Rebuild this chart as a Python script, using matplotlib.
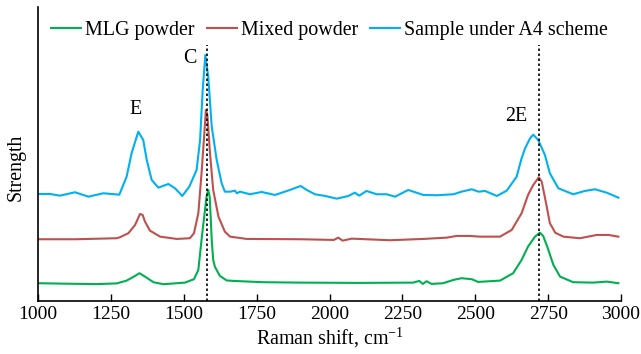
import matplotlib
matplotlib.use("Agg")
import matplotlib.pyplot as plt

# Raman spectra (arbitrary intensity units, offset stacked)
mlg_x = [1000, 1100, 1200, 1270, 1304, 1333, 1348, 1367, 1396, 1430, 1504, 1535, 1550,
         1561, 1570, 1578, 1584, 1589, 1596, 1601, 1607, 1624, 1647, 1670, 1773, 1900,
         2100, 2287, 2308, 2320, 2333, 2350, 2390, 2425, 2453, 2488, 2510, 2585, 2630,
         2659, 2681, 2705, 2722, 2733, 2747, 2768, 2791, 2836, 2905, 2951, 2991]
mlg_y = [17.7, 17.2, 16.8, 17.5, 20.3, 25, 27.7, 24.3, 18.7, 16.7, 18.3, 21.7, 31,
         61, 84, 104, 111, 104, 61, 41, 34, 25, 20.5, 20, 18.7, 18.3,
         18, 18.3, 20, 17, 19.7, 17, 17.7, 21, 22.7, 21.7, 19, 20.3, 27.7,
         41, 54.3, 64.3, 68.3, 65, 54.3, 36, 24.3, 18.7, 18.3, 19.3, 17.7]

mixed_x = [1000, 1130, 1270, 1281, 1310, 1333, 1350, 1359, 1367, 1384, 1419, 1476, 1521,
           1535, 1550, 1561, 1569, 1576, 1581, 1590, 1601, 1619, 1641, 1659, 1716, 1900,
           2015, 2030, 2045, 2076, 2207, 2322, 2402, 2436, 2482, 2516, 2585, 2625, 2659,
           2681, 2699, 2718, 2728, 2743, 2756, 2766, 2774, 2802, 2859, 2917, 2957, 2991]
mixed_y = [61.7, 61.7, 62.7, 63.7, 67.7, 76, 87, 86, 79.3, 70.3, 64.3, 62, 62.7,
           67.7, 87.7, 127.7, 161, 191, 186, 147.7, 111, 84.3, 69.3, 64.3, 62, 61.7,
           61, 63.3, 60.3, 62.3, 60.7, 62, 63.3, 65, 65, 64.3, 64.3, 71, 87.7,
           106, 116, 123.7, 119.3, 97.7, 77.7, 72.7, 68.3, 64.3, 62.7, 66, 66, 64.3]

a4_x = [1000, 1041, 1075, 1127, 1173, 1224, 1279, 1304, 1321, 1344, 1361, 1373, 1390,
        1413, 1447, 1470, 1495, 1519, 1544, 1556, 1565, 1574, 1584, 1596, 1613, 1630,
        1641, 1659, 1676, 1682, 1693, 1727, 1767, 1813, 1864, 1901, 1922, 1950, 1985,
        2025, 2065, 2087, 2102, 2127, 2162, 2196, 2225, 2270, 2322, 2368, 2425, 2453,
        2488, 2511, 2534, 2574, 2608, 2642, 2659, 2671, 2688, 2699, 2716, 2739, 2756,
        2785, 2836, 2876, 2911, 2951, 2991]
a4_y = [107, 107, 105.3, 108.7, 104.3, 107.7, 106.3, 124.3, 147.7, 169.3, 161, 141, 121,
        113.3, 117, 112.7, 105, 114.3, 131, 161, 211, 246, 224.3, 174.3, 141, 117.7,
        109.3, 109.3, 110.3, 107.7, 109.3, 106.7, 109, 106, 111, 115, 111, 106.7, 105,
        102.3, 105, 108.3, 105.3, 110, 106.7, 106.7, 104.3, 111, 106, 105.7, 106.7, 109.3,
        111.7, 109.3, 110, 105, 110.3, 124.3, 142.7, 152.7, 162.7, 166.3, 161, 146, 127.7,
        112.7, 106.7, 110, 111.7, 108.3, 103.3]

peak_lines = [1579, 2720]
peak_labels = ["E", "C", "2E"]
label_x = [1336, 1521, 2640]
label_y = [192, 243, 185]
xticks = [1000, 1250, 1500, 1750, 2000, 2250, 2500, 2750, 3000]

plt.rcParams['font.family'] = ['Liberation Serif', 'DejaVu Serif']
plt.rcParams['font.size'] = 14

fig = plt.figure(figsize=(6.41, 3.54), dpi=100)
ax = fig.add_axes([0.0593, 0.150, 0.9095, 0.830])

ax.plot(mlg_x, mlg_y, color='#00B050', lw=1.5, label='MLG powder')
ax.plot(mixed_x, mixed_y, color='#C0504D', lw=1.5, label='Mixed powder')
ax.plot(a4_x, a4_y, color='#00B0F0', lw=1.5, label='Sample under A4 scheme')

for xv in peak_lines:
    ax.plot([xv, xv], [0, 256], color='black', lw=1.2, ls=(0, (1.5, 1.5)), zorder=5)

for t, xv, yv in zip(peak_labels, label_x, label_y):
    ax.text(xv, yv, t, ha='center', va='center', fontsize=14.4)

ax.set_xlim(1000, 3000)
ax.set_ylim(0, 294)
ax.set_xticks(xticks)
ax.set_yticks([])
ax.tick_params(axis='x', direction='in', length=5, width=1, pad=4)
ax.spines['top'].set_visible(False)
ax.spines['right'].set_visible(False)
ax.spines['left'].set_linewidth(1.2)
ax.spines['bottom'].set_linewidth(1.2)

ax.set_xlabel(r'Raman shift, cm$^{\mathregular{-1}}$', labelpad=1, fontsize=14.4)
ax.set_ylabel('Strength', fontsize=14.4)
ax.yaxis.set_label_coords(-0.022, 0.455)

ax.legend(loc='upper center', bbox_to_anchor=(0.5, 1.0), ncol=3, frameon=False,
          fontsize=14.4, handlelength=1.5, handletextpad=0.2, columnspacing=0.6,
          borderaxespad=0.3)

fig.savefig('out.png', dpi=100)
